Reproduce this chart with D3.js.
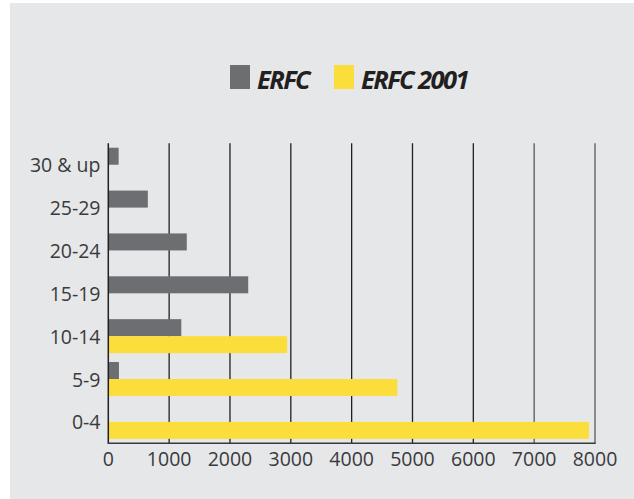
<!DOCTYPE html>
<html><head><meta charset="utf-8">
<script src="https://cdn.jsdelivr.net/npm/d3@7"></script>
<style>html,body{margin:0;padding:0;background:#fff;}svg{display:block;}</style>
</head><body>
<svg id="c" width="634" height="499"></svg>
<script>
const categories = ["30 & up","25-29","20-24","15-19","10-14","5-9","0-4"];
const seriesNames = ["ERFC","ERFC 2001"];
const erfc = [170, 650, 1290, 2300, 1200, 175, 0];
const erfc2001 = [0, 0, 0, 0, 2940, 4750, 7900];
const xTicks = [0,1000,2000,3000,4000,5000,6000,7000,8000];
const colors = ["#6d6e71", "#fbdd3b"];

const svg = d3.select("#c");
svg.append("rect").attr("x",10).attr("y",3).attr("width",624).attr("height",496).attr("fill","#e6e7e9");

const x = d3.scaleLinear().domain([0,8000]).range([108.3,595]);
const y = d3.scaleBand().domain(categories).range([143.3,443.3]).paddingInner(0.2067).paddingOuter(0.1033);
const ySub = d3.scaleBand().domain(seriesNames).range([0,y.bandwidth()]);

const font = "'Open Sans', sans-serif";

// grid lines
svg.append("g").selectAll("line").data(xTicks.slice(1)).join("line")
  .attr("x1",d=>x(d)).attr("x2",d=>x(d)).attr("y1",143.3).attr("y2",443.3)
  .attr("stroke",(d,i)=> i>=6 ? "#58585a" : "#231f20").attr("stroke-width",1.3);

const rows = categories.map((c,i)=>({c, vals:[erfc[i], erfc2001[i]]}));
const g = svg.append("g");
rows.forEach(r=>{
  r.vals.forEach((v,j)=>{
    if (v<=0) return;
    g.append("rect")
      .attr("x",x(0)+0.7).attr("y",y(r.c)+ySub(seriesNames[j]))
      .attr("width",x(v)-x(0)-0.7).attr("height",ySub.bandwidth())
      .attr("fill",colors[j]);
  });
});

// axes lines
svg.append("line").attr("x1",x(0)).attr("x2",x(0)).attr("y1",143.3).attr("y2",443.3).attr("stroke","#231f20").attr("stroke-width",1.5);
svg.append("line").attr("x1",x(0)-0.7).attr("x2",x(8000)+0.7).attr("y1",443.3).attr("y2",443.3).attr("stroke","#3a3a3c").attr("stroke-width",1.5);

// x tick labels
svg.append("g").selectAll("text").data(xTicks).join("text")
  .attr("x",d=>x(d)).attr("y",466).attr("text-anchor","middle")
  .attr("font-family",font).attr("font-size",19.5).attr("fill","#3a3a3c")
  .text(d=>d);

// category labels
svg.append("g").selectAll("text").data(categories).join("text")
  .attr("x",100.5).attr("y",d=>y(d)+y.bandwidth()/2+7.5).attr("text-anchor","end")
  .attr("font-family",font).attr("font-size",19.5).attr("fill","#3a3a3c")
  .text(d=>d);

// legend
const leg = [{x:230, tx:257}, {x:334, tx:361}];
seriesNames.forEach((s,i)=>{
  svg.append("rect").attr("x",leg[i].x).attr("y",65).attr("width",20).attr("height",24).attr("fill",colors[i]);
  svg.append("text").attr("x",leg[i].tx).attr("y",89)
    .attr("font-family",font).attr("font-size",25.5).attr("font-weight","bold").attr("font-style","italic")
    .attr("letter-spacing",-1.6)
    .attr("fill","#231f20").text(s);
});
</script>
</body></html>
